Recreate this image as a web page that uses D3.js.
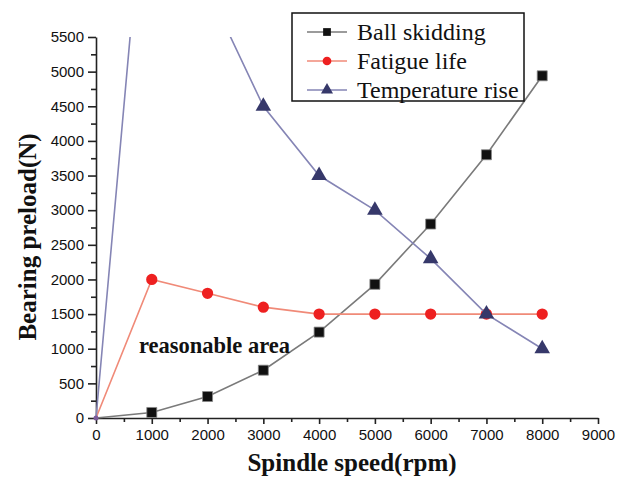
<!DOCTYPE html>
<html>
<head>
<meta charset="utf-8">
<script src="https://cdn.jsdelivr.net/npm/d3@7"></script>
<style>
  body { margin: 0; background: #fff; }
  .tick text { font-family: "Liberation Sans", Arial, sans-serif; font-size: 15px; fill: #111; }
  .axis path, .axis line { stroke: #222; stroke-width: 1.6; }
  .title { font-family: "Liberation Serif", "Times New Roman", serif; font-weight: bold; fill: #111; }
  .legend text { font-family: "Liberation Serif", "Times New Roman", serif; font-size: 24px; fill: #111; }
</style>
</head>
<body>
<div id="chart"></div>
<script>
const width = 644,
  height = 478,
  margin = { top: 37, bottom: 60, left: 96, right: 46 };

const speeds = [0, 1000, 2000, 3000, 4000, 5000, 6000, 7000, 8000];
const ballSkidding = [0, 80, 310, 690, 1240, 1930, 2800, 3800, 4940];
const fatigueLife = [0, 2000, 1800, 1600, 1500, 1500, 1500, 1500, 1500];
const temperatureRise = [0, 9000, 6200, 4500, 3500, 3000, 2300, 1500, 1000];
const xTicks = [0, 1000, 2000, 3000, 4000, 5000, 6000, 7000, 8000, 9000];
const yTicks = [0, 500, 1000, 1500, 2000, 2500, 3000, 3500, 4000, 4500, 5000, 5500];

const series = [
  { name: "Ball skidding", values: ballSkidding, line: "#7a7a7a", marker: "#111", shape: d3.symbolSquare, size: 100 },
  { name: "Fatigue life", values: fatigueLife, line: "#f08a78", marker: "#ee2020", shape: d3.symbolCircle, size: 100 },
  { name: "Temperature rise", values: temperatureRise, line: "#8585b5", marker: "#36386a", shape: d3.symbolTriangle, size: 105 }
];

const xScale = d3.scaleLinear().domain([0, 9000]).range([margin.left, width - margin.right]);
const yScale = d3.scaleLinear().domain([0, 5500]).range([height - margin.bottom, margin.top]);

const svg = d3.select("#chart").append("svg")
  .attr("width", width)
  .attr("height", height);

svg.append("clipPath")
  .attr("id", "clip")
  .append("rect")
  .attr("x", margin.left - 8)
  .attr("y", margin.top)
  .attr("width", width - margin.left - margin.right + 16)
  .attr("height", height - margin.top - margin.bottom + 8);

// minor ticks
const xMinor = d3.range(500, 9000, 1000);
const yMinor = d3.range(250, 5500, 500);

svg.append("g")
  .attr("class", "axis")
  .attr("transform", `translate(0,${height - margin.bottom})`)
  .call(d3.axisBottom(xScale).tickValues(xMinor).tickSize(4).tickFormat(""))
  .call(g => g.select(".domain").remove());

svg.append("g")
  .attr("class", "axis")
  .attr("transform", `translate(${margin.left},0)`)
  .call(d3.axisLeft(yScale).tickValues(yMinor).tickSize(5).tickFormat(""))
  .call(g => g.select(".domain").remove());

svg.append("g")
  .attr("class", "axis x-axis")
  .attr("transform", `translate(0,${height - margin.bottom})`)
  .call(d3.axisBottom(xScale).tickValues(xTicks).tickSize(6).tickSizeOuter(0).tickPadding(5).tickFormat(d3.format("d")));

svg.append("g")
  .attr("class", "axis y-axis")
  .attr("transform", `translate(${margin.left},0)`)
  .call(d3.axisLeft(yScale).tickValues(yTicks).tickSize(8).tickSizeOuter(0).tickPadding(4).tickFormat(d3.format("d")));

const line = d3.line()
  .x((d, i) => xScale(speeds[i]))
  .y(d => yScale(d));

const plot = svg.append("g").attr("clip-path", "url(#clip)");

series.forEach(s => {
  plot.append("path")
    .datum(s.values)
    .attr("fill", "none")
    .attr("stroke", s.line)
    .attr("stroke-width", 1.6)
    .attr("d", line);

  plot.selectAll(null)
    .data(s.values.map((v, i) => ({ x: speeds[i], y: v })).filter(d => d.x > 0 && d.y <= 5500))
    .join("path")
    .attr("transform", d => `translate(${xScale(d.x)},${yScale(d.y)})`)
    .attr("d", d3.symbol().type(s.shape).size(s.size))
    .attr("fill", s.marker)
    .attr("stroke", s.marker === "#111" ? "#888" : "none")
    .attr("stroke-width", 0.8);
});

// small dot at the origin where all series start
plot.append("circle")
  .attr("cx", xScale(0))
  .attr("cy", yScale(0))
  .attr("r", 2.5)
  .attr("fill", "#7a5a9a");

svg.append("text")
  .attr("class", "title")
  .attr("x", 139)
  .attr("y", 353)
  .attr("font-size", 22.5)
  .text("reasonable area");

svg.append("text")
  .attr("class", "title")
  .attr("x", 352)
  .attr("y", 471)
  .attr("text-anchor", "middle")
  .attr("font-size", 25)
  .text("Spindle speed(rpm)");

svg.append("text")
  .attr("class", "title")
  .attr("transform", "translate(36,237) rotate(-90)")
  .attr("text-anchor", "middle")
  .attr("font-size", 25)
  .text("Bearing preload(N)");

// legend
const legend = svg.append("g").attr("class", "legend").attr("transform", "translate(292,13)");
legend.append("rect")
  .attr("width", 232)
  .attr("height", 88)
  .attr("fill", "#fff")
  .attr("stroke", "#111")
  .attr("stroke-width", 1.5);

const item = legend.selectAll(".item")
  .data(series)
  .join("g")
  .attr("class", "item")
  .attr("transform", (d, i) => `translate(0,${19 + i * 29})`);

item.append("line")
  .attr("x1", 15).attr("x2", 55)
  .attr("stroke", d => d.line)
  .attr("stroke-width", 1.6);

item.append("path")
  .attr("transform", "translate(35,0)")
  .attr("d", d => d3.symbol().type(d.shape).size(d.size * 0.6)())
  .attr("fill", d => d.marker);

item.append("text")
  .attr("x", 65)
  .attr("dy", "0.33em")
  .text(d => d.name);
</script>
</body>
</html>
